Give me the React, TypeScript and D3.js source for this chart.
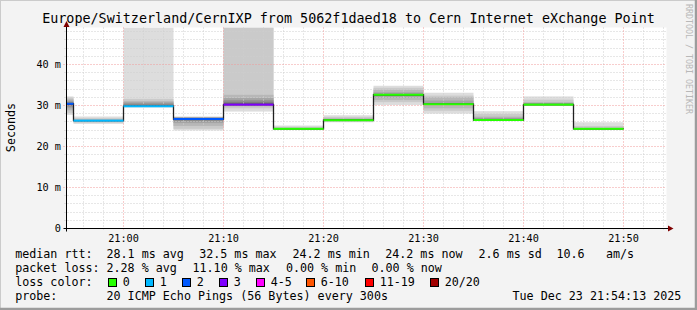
import React from "react";
import * as d3 from "d3";

const W = 697;
const H = 310;

// ---- data ----
const segmentEnds = ["20:55", "21:00", "21:05", "21:10", "21:15", "21:20", "21:25", "21:30", "21:35", "21:40", "21:45", "21:50"];
const medianRtt = [30.4, 26.3, 29.8, 26.7, 30.2, 24.3, 26.4, 32.6, 30.3, 26.45, 30.2, 24.3];
const lossCount = [2, 1, 1, 2, 3, 0, 0, 0, 0, 0, 0, 0];
// 20 sorted ping times (ms) per 5-minute step; values above the graph max are drawn to the top
const pings = [
  [27.7, 28.2, 28.8, 29.3, 29.7, 30.0, 30.1, 30.2, 30.3, 30.35, 30.45, 30.5, 30.55, 30.6, 30.7, 30.9, 31.2, 31.5, 31.9, 32.2],
  [25.5, 25.8, 26.0, 26.1, 26.15, 26.2, 26.22, 26.25, 26.28, 26.3, 26.3, 26.32, 26.35, 26.38, 26.4, 26.45, 26.5, 26.6, 26.9, 27.3],
  [29.5, 29.6, 29.65, 29.7, 29.72, 29.75, 29.78, 29.8, 29.8, 29.8, 29.82, 29.85, 29.9, 30.0, 30.2, 30.5, 30.8, 31.1, 31.6, 60],
  [23.9, 24.3, 25.0, 25.7, 26.1, 26.4, 26.5, 26.6, 26.65, 26.7, 26.7, 26.75, 26.8, 26.85, 26.9, 27.0, 27.05, 27.1, 27.2, 27.3],
  [28.5, 29.3, 29.8, 29.95, 30.05, 30.1, 30.15, 30.18, 30.2, 30.2, 30.22, 30.3, 30.4, 30.6, 30.9, 31.3, 31.8, 32.6, 55, 70],
  [24.1, 24.15, 24.2, 24.22, 24.25, 24.27, 24.28, 24.3, 24.3, 24.3, 24.3, 24.32, 24.33, 24.35, 24.38, 24.4, 24.45, 24.55, 24.8, 25.1],
  [25.9, 26.0, 26.1, 26.2, 26.25, 26.3, 26.35, 26.38, 26.4, 26.4, 26.4, 26.42, 26.45, 26.5, 26.55, 26.6, 26.7, 26.9, 27.2, 27.6],
  [30.1, 30.8, 31.3, 31.9, 32.3, 32.4, 32.45, 32.5, 32.5, 32.55, 32.6, 32.65, 32.7, 32.75, 32.8, 32.9, 33.2, 33.8, 34.3, 34.8],
  [28.0, 28.7, 29.3, 30.1, 30.15, 30.2, 30.22, 30.25, 30.28, 30.3, 30.3, 30.32, 30.35, 30.4, 30.45, 30.5, 31.2, 32.0, 32.4, 33.1],
  [26.2, 26.25, 26.3, 26.32, 26.35, 26.38, 26.4, 26.4, 26.42, 26.45, 26.45, 26.5, 26.55, 26.6, 26.7, 26.8, 27.0, 27.3, 27.9, 28.6],
  [29.9, 29.95, 30.0, 30.05, 30.1, 30.1, 30.15, 30.15, 30.2, 30.2, 30.2, 30.25, 30.3, 30.35, 30.4, 30.5, 30.6, 30.8, 31.4, 32.2],
  [24.1, 24.15, 24.2, 24.22, 24.25, 24.27, 24.28, 24.3, 24.3, 24.3, 24.3, 24.32, 24.35, 24.38, 24.4, 24.45, 24.5, 24.6, 25.0, 25.9],
];

const xTickLabels = ["21:00", "21:10", "21:20", "21:30", "21:40", "21:50"];
const yTickValues = [0, 10, 20, 30, 40];
const yTickLabels = ["0", "10 m", "20 m", "30 m", "40 m"];

const lossLegendLabels = ["0", "1", "2", "3", "4-5", "6-10", "11-19", "20/20"];
const lossLegendMax = [0, 1, 2, 3, 5, 10, 19, 20];
const lossColors = ["#26ff00", "#00b8ff", "#0059ff", "#7e00ff", "#ff00ff", "#ff5500", "#ff0000", "#a10000"];

const title = "Europe/Switzerland/CernIXP from 5062f1daed18 to Cern Internet eXchange Point";
const yAxisTitle = "Seconds";
const watermark = "RRDTOOL / TOBI OETIKER";

// ---- layout ----
const FONT = "'DejaVu Sans Mono', monospace";
const plotLeft = 66.5;
const plotRight = 666.5;
const plotTop = 27.5;
const plotBottom = 228.5;
const yMax = 49;

const parse = d3.timeParse("%Y-%m-%d %H:%M:%S");
const at = (hm: string) => parse(`2025-12-23 ${hm}:00`) as Date;

const x = d3
  .scaleTime()
  .domain([parse("2025-12-23 20:54:18") as Date, parse("2025-12-23 21:54:18") as Date])
  .range([plotLeft, plotRight]);
const y = d3.scaleLinear().domain([0, yMax]).range([plotBottom, plotTop]);

const crisp = (v: number) => Math.round(v - 0.5) + 0.5;
const grayFor = (k: number) => {
  const c = Math.floor((190 / 10) * (10 - (k + 1))) + 50;
  return d3.rgb(c, c, c).formatHex();
};
const lossColor = (n: number) => lossColors[lossLegendMax.findIndex((m) => n <= m)];

export default function App() {
  const ends = segmentEnds.map(at);
  const starts = ends.map((d) => d3.timeMinute.offset(d, -5));
  const yv = (v: number) => (v >= yMax ? plotTop : y(v));

  // grid
  const minorX = d3.timeMinute
    .every(2)!
    .range(x.domain()[0], x.domain()[1])
    .filter((d) => d.getMinutes() % 10 !== 0);
  const majorX = xTickLabels.map(at);
  const minorY = d3.range(2, yMax, 2).filter((v) => v % 10 !== 0);
  const majorY = yTickValues.filter((v) => v > 0);

  const stepPts: [number, number][] = starts.map((s, i) => [x(s), y(medianRtt[i])]);
  stepPts.push([x(ends[ends.length - 1]), y(medianRtt[medianRtt.length - 1])]);
  const stepPath = d3.line().curve(d3.curveStepAfter)(stepPts) || "";

  const legendRows = [258, 272, 286, 300];
  const swatchX = [108.5, 145.5, 182.5, 219.5, 256.5, 306.5, 365.5, 430.5];

  return (
    <div style={{ position: "fixed", left: 0, top: 0, width: W, height: H }}>
      <svg width={W} height={H} style={{ display: "block" }} fontFamily={FONT}>
        <rect x={0} y={0} width={W} height={H} fill="#f3f3f3" />
        {/* frame */}
        <path d={`M0,${H} V0 H${W}`} stroke="#cbcbcb" strokeWidth={2} fill="none" />
        <path d={`M0,${H - 1} H${W - 1} V0`} stroke="#9c9c9c" strokeWidth={2.5} fill="none" />

        <text x={W / 2} y={22.5} textAnchor="middle" fontSize={13.4} fill="#000">
          {title}
        </text>
        <text
          transform={`translate(688.5,4) rotate(90)`}
          fontSize={8.3}
          fill="#b8b8b8"
          dominantBaseline="middle"
        >
          {watermark}
        </text>

        {/* canvas */}
        <rect x={plotLeft} y={plotTop} width={plotRight - plotLeft} height={plotBottom - plotTop} fill="#ffffff" />

        <defs>
          <clipPath id="plotClip">
            <rect x={plotLeft} y={plotTop} width={plotRight - plotLeft} height={plotBottom - plotTop} />
          </clipPath>
        </defs>

        {/* smoke */}
        <g clipPath="url(#plotClip)">
          {pings.map((p, i) =>
            d3.range(10).map((k) => {
              const lo = p[k];
              const hi = p[19 - k];
              const y0 = yv(hi);
              const y1 = yv(lo);
              return (
                <rect
                  key={`s${i}-${k}`}
                  x={x(starts[i])}
                  width={x(ends[i]) - x(starts[i])}
                  y={y0}
                  height={Math.max(0, y1 - y0)}
                  fill={grayFor(k)}
                />
              );
            })
          )}
        </g>

        {/* grid */}
        <g strokeDasharray="1,2" strokeWidth={1} fill="none">
          {minorX.map((d, i) => (
            <line key={`mx${i}`} x1={crisp(x(d))} x2={crisp(x(d))} y1={plotTop} y2={plotBottom + 2} stroke="#cfcfcf" />
          ))}
          {minorY.map((v, i) => (
            <line key={`my${i}`} x1={plotLeft - 2} x2={plotRight} y1={crisp(y(v))} y2={crisp(y(v))} stroke="#cfcfcf" />
          ))}
          {majorX.map((d, i) => (
            <line key={`Mx${i}`} x1={crisp(x(d))} x2={crisp(x(d))} y1={plotTop} y2={plotBottom + 3} stroke="#f09a9a" />
          ))}
          {majorY.map((v, i) => (
            <line key={`My${i}`} x1={plotLeft - 3} x2={plotRight} y1={crisp(y(v))} y2={crisp(y(v))} stroke="#f09a9a" />
          ))}
        </g>

        {/* median step line + loss-coloured median */}
        <g clipPath="url(#plotClip)">
          <path d={stepPath} fill="none" stroke="#202020" strokeWidth={1.3} />
          {medianRtt.map((m, i) => (
            <rect
              key={`m${i}`}
              x={x(starts[i])}
              width={x(ends[i]) - x(starts[i])}
              y={y(m) - 1}
              height={2}
              fill={lossColor(lossCount[i])}
            />
          ))}
        </g>

        {/* axes */}
        <line x1={plotLeft - 3} x2={670} y1={plotBottom} y2={plotBottom} stroke="#000" strokeWidth={1} />
        <line x1={plotLeft} x2={plotLeft} y1={plotBottom + 3} y2={24} stroke="#000" strokeWidth={1} />
        <path d={`M668,225.5 L673.5,228.5 L668,231.5 Z`} fill="#7f0000" />
        <path d={`M63.5,27 L66.5,21 L69.5,27 Z`} fill="#7f0000" />

        {/* tick labels */}
        {xTickLabels.map((lab, i) => (
          <text key={`xt${i}`} x={x(majorX[i])} y={242} textAnchor="middle" fontSize={10.2} fill="#000">
            {lab}
          </text>
        ))}
        {yTickValues.map((v, i) => (
          <text key={`yt${i}`} x={61} y={y(v) + 3.6} textAnchor="end" fontSize={10.2} fill="#000">
            {yTickLabels[i]}
          </text>
        ))}
        <text
          transform={`translate(14.5,127.5) rotate(-90)`}
          textAnchor="middle"
          fontSize={11.7}
          fill="#000"
        >
          {yAxisTitle}
        </text>

        {/* legend */}
        <g fontSize={11.7} fill="#000" style={{ whiteSpace: "pre" }}>
          <text x={15.2} y={legendRows[0]}>median rtt:</text>
          <text x={106.5} y={legendRows[0]}>28.1 ms avg</text>
          <text x={199.2} y={legendRows[0]}>32.5 ms max</text>
          <text x={292.5} y={legendRows[0]}>24.2 ms min</text>
          <text x={385.2} y={legendRows[0]}>24.2 ms now</text>
          <text x={478.5} y={legendRows[0]}>2.6 ms sd</text>
          <text x={556.5} y={legendRows[0]}>10.6</text>
          <text x={606} y={legendRows[0]}>am/s</text>

          <text x={15.2} y={legendRows[1]}>packet loss:</text>
          <text x={106.5} y={legendRows[1]}>2.28 % avg</text>
          <text x={192.5} y={legendRows[1]}>11.10 % max</text>
          <text x={285.9} y={legendRows[1]}>0.00 % min</text>
          <text x={371.5} y={legendRows[1]}>0.00 % now</text>

          <text x={15.2} y={legendRows[2]}>loss color:</text>
          {lossLegendLabels.map((lab, i) => (
            <g key={`lg${i}`}>
              <rect x={swatchX[i]} y={278.5} width={8} height={8} fill={lossColors[i]} stroke="#000" strokeWidth={1} />
              <text x={swatchX[i] + 14.2} y={legendRows[2]}>{lab}</text>
            </g>
          ))}

          <text x={15.2} y={legendRows[3]}>probe:</text>
          <text x={106.5} y={legendRows[3]}>20 ICMP Echo Pings (56 Bytes) every 300s</text>
          <text x={512.5} y={legendRows[3]}>Tue Dec 23 21:54:13 2025</text>
        </g>
      </svg>
    </div>
  );
}
